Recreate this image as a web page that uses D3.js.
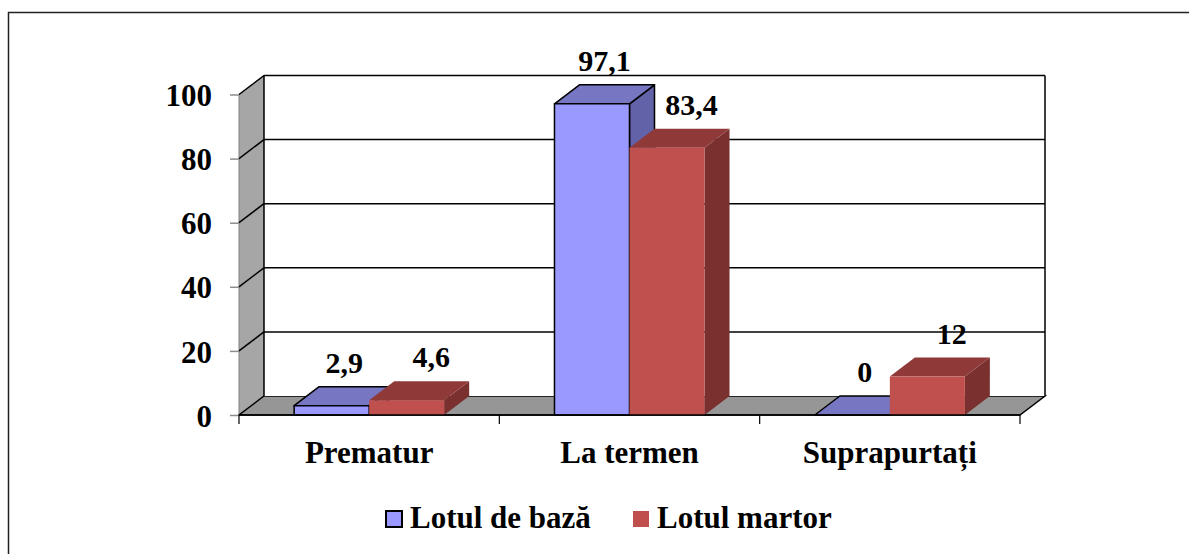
<!DOCTYPE html>
<html>
<head>
<meta charset="utf-8">
<script src="https://cdn.jsdelivr.net/npm/d3@7"></script>
<style>
  body { margin: 0; background: #fff; }
  svg text { font-family: "Times New Roman", "Liberation Serif", "DejaVu Serif", serif !important; font-weight: bold; }
</style>
</head>
<body>
<script>
const categories = ["Prematur", "La termen", "Suprapurtați"];
const seriesNames = ["Lotul de bază", "Lotul martor"];
const lotulDeBaza = [2.9, 97.1, 0];
const lotulMartor = [4.6, 83.4, 12];
const labelText = [["2,9", "97,1", "0"], ["4,6", "83,4", "12"]];
const yTicks = [0, 20, 40, 60, 80, 100];

const width = 1189;
const height = 554;
const serif = "'Times New Roman', 'Liberation Serif', serif";

// 3d depth offset of the plot box
const dx = 25;
const dy = -19;

const colors = [
    { front: "#9999ff", top: "#7676c2", side: "#6262a8", stroke: "#000" },
    { front: "#c0504d", top: "#8f3a38", side: "#7a302e", stroke: "none" }
];

const values = [lotulDeBaza, lotulMartor];

const svg = d3.select("body")
    .append("svg")
    .attr("width", width)
    .attr("height", height)
    .attr("font-family", serif)
    .attr("font-weight", "bold");

// outer chart border
svg.append("rect")
    .attr("x", 8.5).attr("y", 12.5)
    .attr("width", 1250).attr("height", 600)
    .attr("fill", "#fff")
    .attr("stroke", "#222")
    .attr("stroke-width", 1.5);

const x = d3.scaleBand()
    .domain(categories)
    .range([239, 1020]);

const xs = d3.scaleBand()
    .domain(d3.range(seriesNames.length))
    .range([0, x.bandwidth()])
    .paddingOuter(0.735);

const y = d3.scaleLinear()
    .domain([0, 100])
    .range([415, 94.5]);

const [xl, xr] = x.range();
const pt = p => p.join(",");

// side wall
svg.append("polygon")
    .attr("points", [[xl, y(0)], [xl + dx, y(0) + dy], [xl + dx, y(100) + dy], [xl, y(100)]].map(pt).join(" "))
    .attr("fill", "#a6a6a6")
    .attr("stroke", "#808080");

// floor
svg.append("polygon")
    .attr("points", [[xl, y(0)], [xr, y(0)], [xr + dx, y(0) + dy], [xl + dx, y(0) + dy]].map(pt).join(" "))
    .attr("fill", "#969696")
    .attr("stroke", "#000")
    .attr("stroke-width", 1.5);

// back wall
svg.append("rect")
    .attr("x", xl + dx).attr("y", y(100) + dy)
    .attr("width", xr - xl).attr("height", y(0) - y(100))
    .attr("fill", "#fff");

// gridlines on back and side walls
const grid = svg.append("g").attr("stroke", "#000").attr("stroke-width", 1.5);
yTicks.filter(t => t > 0).forEach(t => {
    grid.append("line")
        .attr("x1", xl + dx).attr("x2", xr + dx)
        .attr("y1", y(t) + dy).attr("y2", y(t) + dy);
    grid.append("line")
        .attr("x1", xl).attr("x2", xl + dx)
        .attr("y1", y(t)).attr("y2", y(t) + dy);
});
grid.append("line")
    .attr("x1", xr + dx).attr("x2", xr + dx)
    .attr("y1", y(100) + dy).attr("y2", y(0) + dy);
grid.append("line")
    .attr("x1", xl + dx).attr("x2", xl + dx)
    .attr("y1", y(100) + dy).attr("y2", y(0) + dy);

// bars
categories.forEach((c, ci) => {
    values.forEach((vals, si) => {
        const v = vals[ci];
        const col = colors[si];
        const x0 = x(c) + xs(si);
        const x1 = x0 + xs.bandwidth();
        const yt = y(v);
        const yb = y(0);
        const g = svg.append("g")
            .attr("stroke", col.stroke)
            .attr("stroke-width", 1.5)
            .attr("stroke-linejoin", "round");
        if (v > 0) {
            g.append("polygon")
                .attr("points", [[x1, yt], [x1 + dx, yt + dy], [x1 + dx, yb + dy], [x1, yb]].map(pt).join(" "))
                .attr("fill", col.side);
        }
        g.append("polygon")
            .attr("points", [[x0, yt], [x1, yt], [x1 + dx, yt + dy], [x0 + dx, yt + dy]].map(pt).join(" "))
            .attr("fill", col.top);
        if (v > 0) {
            g.append("rect")
                .attr("x", x0).attr("y", yt)
                .attr("width", x1 - x0).attr("height", yb - yt)
                .attr("fill", col.front);
        }
    });
});

// front floor edge
svg.append("line")
    .attr("x1", xl).attr("x2", xr)
    .attr("y1", y(0)).attr("y2", y(0))
    .attr("stroke", "#000").attr("stroke-width", 1.5);

// data labels
categories.forEach((c, ci) => {
    values.forEach((vals, si) => {
        const v = vals[ci];
        const cx = x(c) + xs(si) + xs.bandwidth() / 2 + dx / 2 + si * 12;
        svg.append("text")
            .attr("x", cx)
            .attr("y", y(v) + dy - 14)
            .attr("text-anchor", "middle")
            .attr("font-size", 30)
            .text(labelText[si][ci]);
    });
});

// y axis
const yAxis = d3.axisLeft(y)
    .tickValues(yTicks)
    .tickSize(9)
    .tickSizeOuter(0)
    .tickPadding(18);

const ya = svg.append("g")
    .attr("transform", `translate(${xl}, 0)`)
    .call(yAxis)
    .attr("font-family", serif)
    .attr("font-size", 31);
ya.select(".domain").remove();
ya.selectAll(".tick line").attr("stroke", "#8c8c8c").attr("stroke-width", 1.5);
ya.selectAll(".tick text")
    .attr("fill", "#000")
    .attr("dy", "0.36em");

// x axis category separators and labels
const sep = [xl].concat(categories.map(c => x(c) + x.bandwidth()));
svg.selectAll(".sep")
    .data(sep)
    .enter()
    .append("line")
    .attr("x1", d => d).attr("x2", d => d)
    .attr("y1", y(0)).attr("y2", y(0) + 9)
    .attr("stroke", "#000").attr("stroke-width", 1.2);

svg.selectAll(".cat")
    .data(categories)
    .enter()
    .append("text")
    .attr("x", d => x(d) + x.bandwidth() / 2)
    .attr("y", 463)
    .attr("text-anchor", "middle")
    .attr("font-size", 31)
    .text(d => d);

// legend
const legendX = [386, 633];
seriesNames.forEach((s, i) => {
    svg.append("rect")
        .attr("x", legendX[i]).attr("y", 511)
        .attr("width", 16).attr("height", 16)
        .attr("fill", colors[i].front)
        .attr("stroke", colors[i].stroke)
        .attr("stroke-width", 2);
    svg.append("text")
        .attr("x", legendX[i] + 24)
        .attr("y", 528)
        .attr("font-size", 31)
        .text(s);
});
</script>
</body>
</html>
